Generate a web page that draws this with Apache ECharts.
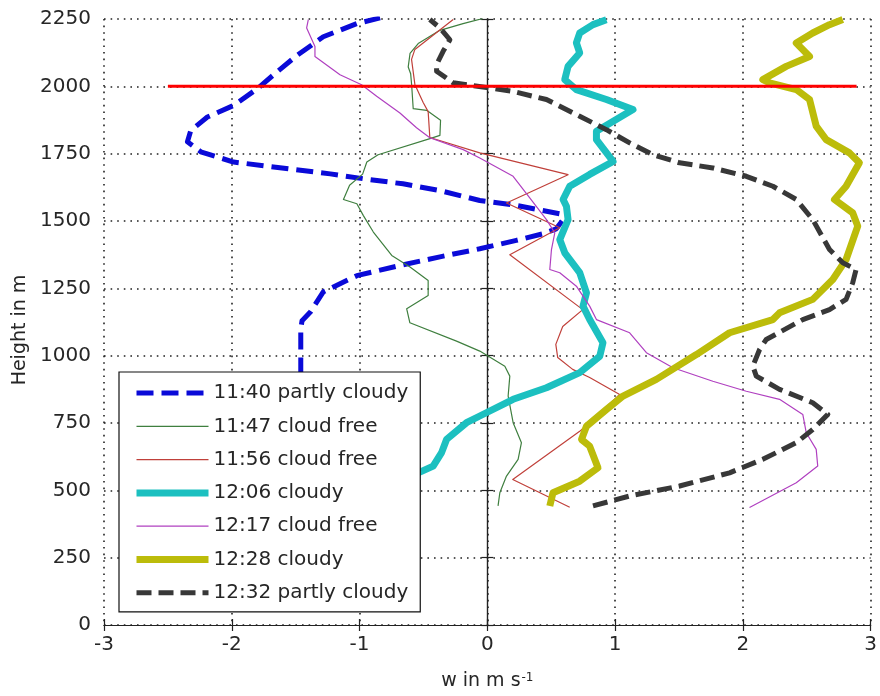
<!DOCTYPE html>
<html>
<head>
<meta charset="utf-8">
<script src="https://cdn.jsdelivr.net/npm/echarts@6/dist/echarts.min.js"></script>
<style>
  html, body { margin: 0; padding: 0; background: #fff; }
  #chart { width: 880px; height: 696px; }
</style>
</head>
<body>
<div id="chart"></div>
<script>
// ---- tick labels / axes ----
const xTicks = [-3, -2, -1, 0, 1, 2, 3];
const yTicks = [0, 250, 500, 750, 1000, 1250, 1500, 1750, 2000, 2250];

// ---- series names ----
const names = ['11:40 partly cloudy', '11:47 cloud free', '11:56 cloud free', '12:06 cloudy',
               '12:17 cloud free', '12:28 cloudy', '12:32 partly cloudy'];

// ---- 11:40 partly cloudy ----
const w1140 = [-1.46, -1.46, -1.45, -1.385, -1.284, -1.021, -0.683, -0.371, -0.059, 0.227, 0.432, 0.539, 0.588,
  0.565, 0.432, 0.227, -0.059, -0.371, -0.66, -0.972, -1.229, -1.541, -1.986, -2.243, -2.347, -2.321, -2.191,
  -1.986, -1.801, -1.645, -1.489, -1.284, -1.021, -0.839];
const h1140 = [930, 1099, 1130, 1162, 1237, 1297, 1335, 1367, 1397, 1428, 1452, 1471, 1502,
  1527, 1539, 1558, 1576, 1613, 1638, 1657, 1675, 1693, 1719, 1757, 1794, 1836, 1886,
  1929, 1991, 2054, 2115, 2184, 2233, 2254];

// ---- 11:47 cloud free ----
const w1147 = [0.084, 0.098, 0.150, 0.241, 0.267, 0.202, 0.163, 0.176, 0.137, -0.059, -0.241, -0.606, -0.631,
  -0.463, -0.463, -0.605, -0.748, -0.892, -0.970, -1.021, -1.126, -1.078, -0.976, -0.943, -0.855, -0.449,
  -0.371, -0.366, -0.475, -0.580, -0.592, -0.600, -0.619, -0.605, -0.541, -0.371, -0.190, -0.034];
const h1147 = [442, 491, 553, 615, 677, 751, 850, 924, 961, 1017, 1054, 1122, 1174,
  1223, 1279, 1329, 1372, 1459, 1520, 1564, 1580, 1633, 1674, 1719, 1746, 1806,
  1818, 1874, 1911, 1917, 2004, 2047, 2072, 2122, 2159, 2208, 2233, 2252];

// ---- 11:56 cloud free ----
const w1156 = [0.645, 0.199, 0.723, 1.036, 0.801, 0.668, 0.551, 0.536, 0.590, 0.747, 0.176, 0.567, 0.150,
  0.632, -0.059, -0.450, -0.463, -0.502, -0.567, -0.593, -0.567, -0.267];
const h1156 = [437, 540, 719, 856, 919, 949, 993, 1042, 1108, 1171, 1375, 1475, 1567,
  1672, 1753, 1810, 1906, 1940, 2007, 2100, 2137, 2248];

// ---- 12:06 cloudy ----
const w1206 = [-0.645, -0.541, -0.424, -0.358, -0.319, -0.163, -0.059, 0.202, 0.463, 0.723, 0.880, 0.905,
  0.801, 0.749, 0.776, 0.723, 0.606, 0.567, 0.632, 0.619, 0.593, 0.645, 0.801, 0.984, 0.854, 0.854, 1.140,
  0.932, 0.697, 0.606, 0.632, 0.723, 0.697, 0.723, 0.827, 0.932];
const h1206 = [548, 565, 590, 640, 689, 751, 776, 838, 881, 937, 998, 1048,
  1134, 1184, 1233, 1308, 1382, 1431, 1505, 1555, 1580, 1629, 1673, 1721, 1802, 1833, 1914,
  1951, 1988, 2025, 2074, 2124, 2161, 2198, 2229, 2247];

// ---- 12:17 cloud free ----
const w1217 = [2.052, 2.418, 2.586, 2.574, 2.496, 2.469, 2.287, 2.027, 1.765, 1.453, 1.245, 1.114, 0.854,
  0.801, 0.697, 0.567, 0.489, 0.502, 0.528, 0.463, 0.332, 0.202, -0.059, -0.189, -0.450, -0.554, -0.684,
  -0.866, -0.984, -1.153, -1.349, -1.349, -1.414, -1.401];
const h1217 = [436, 528, 590, 652, 714, 782, 838, 868, 905, 955, 1011, 1085, 1134,
  1184, 1258, 1308, 1320, 1394, 1456, 1505, 1586, 1666, 1734, 1765, 1809, 1846, 1901,
  1963, 2006, 2043, 2111, 2148, 2217, 2248];

// ---- 12:28 cloudy ----
const w1228 = [0.489, 0.514, 0.723, 0.866, 0.801, 0.737, 0.776, 0.932, 1.062, 1.323, 1.636, 1.896, 2.235,
  2.287, 2.547, 2.704, 2.808, 2.899, 2.860, 2.717, 2.808, 2.912, 2.834, 2.652, 2.574, 2.522, 2.418, 2.209,
  2.156, 2.339, 2.522, 2.418, 2.547, 2.678, 2.782];
const h1228 = [442, 491, 534, 584, 664, 689, 738, 800, 850, 912, 1004, 1085, 1134,
  1159, 1209, 1283, 1357, 1481, 1530, 1580, 1629, 1716, 1753, 1802, 1852, 1951, 1988, 2013,
  2025, 2074, 2111, 2161, 2198, 2229, 2248];

// ---- 12:32 partly cloudy ----
const w1232 = [0.827, 1.114, 1.505, 1.896, 2.156, 2.418, 2.547, 2.665, 2.547, 2.287, 2.105, 2.078, 2.131,
  2.183, 2.469, 2.678, 2.808, 2.860, 2.886, 2.782, 2.678, 2.547, 2.418, 2.235, 2.027, 1.765, 1.505, 1.296,
  1.114, 0.932, 0.723, 0.463, 0.202, 0.020, -0.267, -0.397, -0.397, -0.346, -0.293, -0.371, -0.450];
const h1232 = [442, 479, 516, 565, 615, 677, 726, 782, 825, 875, 924, 961, 1023,
  1060, 1134, 1171, 1209, 1271, 1320, 1345, 1394, 1505, 1580, 1629, 1666, 1697, 1716, 1746,
  1790, 1839, 1889, 1951, 1981, 1994, 2013, 2056, 2081, 2130, 2173, 2217, 2248];

// ---- reference line at 2000 m ----
const refLineW = [-2.5, 2.89];
const refLineH = [2000, 2000];

function pairs(w, h) { return w.map((v, i) => [v, h[i]]); }

const FONT = 'DejaVu Sans';
const TXT = '#262626';

const styles = [
  { color: '#0a0ad8', width: 5, type: [17, 8] },
  { color: '#3f7f3f', width: 1.2, type: 'solid' },
  { color: '#c0403a', width: 1.2, type: 'solid' },
  { color: '#1cc0c0', width: 7, type: 'solid' },
  { color: '#b040c0', width: 1.2, type: 'solid' },
  { color: '#bcbc0a', width: 7, type: 'solid' },
  { color: '#383838', width: 5, type: [15, 7] }
];
const dataW = [w1140, w1147, w1156, w1206, w1217, w1228, w1232];
const dataH = [h1140, h1147, h1156, h1206, h1217, h1228, h1232];

const series = names.map((n, i) => ({
  name: n,
  type: 'line',
  xAxisIndex: 0, yAxisIndex: 0,
  data: pairs(dataW[i], dataH[i]),
  symbol: 'none',
  showSymbol: false,
  smooth: false,
  clip: true,
  color: styles[i].color,
  lineStyle: { color: styles[i].color, width: styles[i].width, type: styles[i].type, cap: 'butt', join: 'round' },
  emphasis: { disabled: true },
  silent: true
}));
series.push({
  name: 'ref2000',
  type: 'line',
  data: pairs(refLineW, refLineH),
  symbol: 'none',
  lineStyle: { color: '#ff0000', width: 3 },
  emphasis: { disabled: true },
  silent: true
});

const gridDots = { show: true, lineStyle: { color: '#222', width: 1.6, type: [1.6, 5] } };
const axisLine = { show: true, lineStyle: { color: '#222', width: 1.2 } };
const tick = { show: true, inside: true, length: 6, lineStyle: { color: '#222', width: 1.2 } };

const chart = echarts.init(document.getElementById('chart'), null, { renderer: 'canvas' });
chart.setOption({
  animation: false,
  backgroundColor: '#fff',
  grid: { left: 104, right: 9, top: 19, bottom: 70, containLabel: false },
  xAxis: [
    {
      type: 'value', position: 'bottom', min: xTicks[0], max: xTicks[xTicks.length - 1], interval: 1,
      axisLine: axisLine, axisTick: tick, splitLine: gridDots,
      axisLabel: { color: TXT, fontFamily: FONT, fontSize: 20, margin: 10, formatter: v => String(v) },
      name: '{a|w in m s}{b|-1}', nameLocation: 'middle', nameGap: 47,
      nameTextStyle: {
        color: TXT, fontFamily: FONT,
        rich: {
          a: { fontSize: 19, fontFamily: FONT, color: TXT },
          b: { fontSize: 12, fontFamily: FONT, color: TXT, verticalAlign: 'top', padding: [0, 0, 6, 1] }
        }
      }
    },
    {
      type: 'value', position: 'top', min: xTicks[0], max: xTicks[xTicks.length - 1], interval: 1,
      axisLine: axisLine, axisTick: tick, splitLine: { show: false }, axisLabel: { show: false }
    }
  ],
  yAxis: [
    {
      type: 'value', position: 'left', min: yTicks[0], max: yTicks[yTicks.length - 1], interval: 250,
      axisLine: axisLine, axisTick: tick, splitLine: gridDots,
      axisLabel: { color: TXT, fontFamily: FONT, fontSize: 20, margin: 13, formatter: v => String(v) },
      name: 'Height in m', nameLocation: 'middle', nameGap: 74, nameRotate: 90,
      nameTextStyle: { color: TXT, fontFamily: FONT, fontSize: 19, padding: [0, 16, 0, 0] }
    },
    {
      type: 'value', position: 'right', min: yTicks[0], max: yTicks[yTicks.length - 1], interval: 250,
      axisLine: axisLine, axisTick: tick, splitLine: { show: false }, axisLabel: { show: false }
    }
  ],
  legend: {
    data: names,
    orient: 'vertical',
    left: 119, top: 372,
    padding: [11, 12, 9, 14],
    itemGap: 13.3,
    itemWidth: 72, itemHeight: 14,
    itemTextGap: 5,
    backgroundColor: '#fff',
    borderColor: '#111', borderWidth: 1.2, borderRadius: 0,
    selectedMode: false,
    itemStyle: { opacity: 0, borderWidth: 0 },
    lineStyle: { width: 'inherit', type: 'inherit' },
    textStyle: { color: TXT, fontFamily: FONT, fontSize: 20 }
  },
  series: series
});
</script>
</body>
</html>
